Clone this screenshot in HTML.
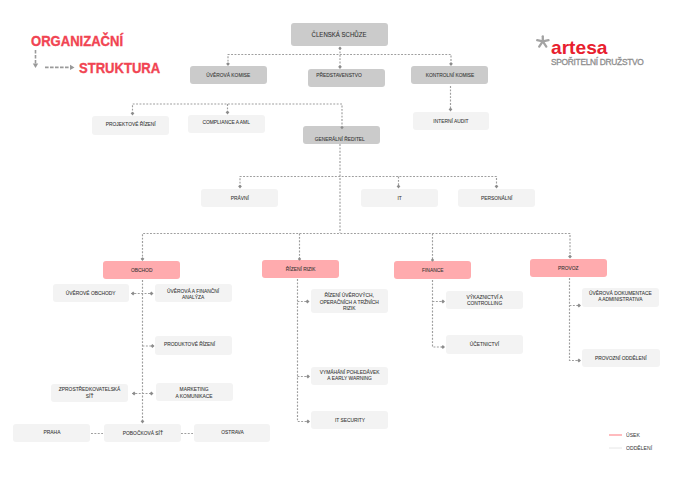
<!DOCTYPE html>
<html><head><meta charset="utf-8">
<style>
html,body{margin:0;padding:0;background:#fff;}
body{width:676px;height:478px;position:relative;overflow:hidden;font-family:"Liberation Sans",sans-serif;}
.b{position:absolute;border-radius:3px;display:flex;align-items:center;justify-content:center;text-align:center;font-size:5.8px;line-height:6.1px;color:#333;-webkit-text-stroke:0.08px #333;box-sizing:border-box;white-space:nowrap;}
.b span{display:inline-block;transform:translateY(-0.3px) scaleX(0.84);}
.b.m{line-height:6.2px;}
.b.m span{transform:scaleX(0.84);}
.b.big{font-size:7.3px;line-height:7px;}
.b.big span{transform:translateY(0.2px) scaleX(0.83);}
.d{background:#cbcbcb;}
.l{background:#f3f3f3;}
.p{background:#ffabae;}
.t{position:absolute;white-space:nowrap;line-height:1;}
svg{position:absolute;left:0;top:0;}
</style></head><body>
<div class="t" style="left:31px;top:33px;font-size:15px;font-weight:700;color:#f14452;-webkit-text-stroke:0.35px #f14452;transform:scaleX(0.87);transform-origin:0 0;">ORGANIZAČNÍ</div>
<div class="t" style="left:79px;top:60px;font-size:15px;font-weight:700;color:#f14452;-webkit-text-stroke:0.35px #f14452;transform:scaleX(0.87);transform-origin:0 0;">STRUKTURA</div>
<div class="t" style="left:551px;top:39px;font-size:18.6px;font-weight:700;color:#e8202e;transform:scaleX(1.03);transform-origin:0 0;">artesa</div>
<div class="t" style="left:551px;top:58px;font-size:8.4px;color:#8e8e8e;-webkit-text-stroke:0.3px #8e8e8e;letter-spacing:-0.3px;">SPOŘITELNÍ DRUŽSTVO</div>
<div class="t" style="left:626px;top:432.5px;font-size:5.8px;color:#333;transform:scaleX(0.88);transform-origin:0 0;">ÚSEK</div>
<div class="t" style="left:626px;top:445.5px;font-size:5.8px;color:#333;transform:scaleX(0.88);transform-origin:0 0;">ODDĚLENÍ</div>
<div class="b d big" style="left:291px;top:23px;width:97px;height:23px;"><span>ČLENSKÁ SCHŮZE</span></div>
<div class="b d" style="left:190px;top:66px;width:77px;height:18px;"><span>ÚVĚROVÁ KOMISE</span></div>
<div class="b d" style="left:308px;top:69px;width:77px;height:18px;"><span style="position:relative;left:-7px;top:-3px;">PŘEDSTAVENSTVO</span></div>
<div class="b d" style="left:411px;top:66px;width:77px;height:18px;"><span>KONTROLNÍ KOMISE</span></div>
<div class="b l" style="left:92px;top:116px;width:77px;height:18.5px;"><span style="position:relative;left:0px;top:-1.3px;">PROJEKTOVÉ ŘÍZENÍ</span></div>
<div class="b l" style="left:187.5px;top:114.6px;width:77px;height:18.2px;"><span style="position:relative;left:0.5px;top:-1.7px;">COMPLIANCE A AML</span></div>
<div class="b l" style="left:413px;top:112px;width:76px;height:18px;"><span>INTERNÍ AUDIT</span></div>
<div class="b d" style="left:303px;top:126px;width:77px;height:18px;"><span style="position:relative;left:-2px;top:4px;">GENERÁLNÍ ŘEDITEL</span></div>
<div class="b l" style="left:201px;top:189px;width:77px;height:18px;"><span>PRÁVNÍ</span></div>
<div class="b l" style="left:361px;top:189px;width:77px;height:18px;"><span>IT</span></div>
<div class="b l" style="left:458px;top:189px;width:77px;height:18px;"><span>PERSONÁLNÍ</span></div>
<div class="b p" style="left:103px;top:261px;width:77px;height:18px;"><span>OBCHOD</span></div>
<div class="b p" style="left:262px;top:260px;width:77px;height:18px;"><span>ŘÍZENÍ RIZIK</span></div>
<div class="b p" style="left:394px;top:261px;width:77px;height:18px;"><span>FINANCE</span></div>
<div class="b p" style="left:530px;top:259px;width:77px;height:18px;"><span>PROVOZ</span></div>
<div class="b l" style="left:53px;top:284px;width:76px;height:18px;"><span>ÚVĚROVÉ OBCHODY</span></div>
<div class="b l m" style="left:155px;top:284px;width:77px;height:18px;"><span style="position:relative;left:0px;top:0.8px;">ÚVĚROVÁ A FINANČNÍ<br>ANALÝZA</span></div>
<div class="b l" style="left:155px;top:336px;width:77px;height:19px;"><span style="position:relative;left:-4px;top:-1px;">PRODUKTOVÉ ŘÍZENÍ</span></div>
<div class="b l m" style="left:51px;top:384px;width:77px;height:18px;"><span style="position:relative;left:0px;top:-0.5px;">ZPROSTŘEDKOVATELSKÁ<br>SÍŤ</span></div>
<div class="b l m" style="left:156px;top:383px;width:77px;height:18px;"><span style="position:relative;left:0px;top:0.5px;">MARKETING<br>A KOMUNIKACE</span></div>
<div class="b l" style="left:13px;top:424px;width:77px;height:18px;"><span style="position:relative;left:0px;top:-1px;">PRAHA</span></div>
<div class="b l" style="left:104px;top:424px;width:77px;height:18px;"><span>POBOČKOVÁ SÍŤ</span></div>
<div class="b l" style="left:194px;top:424px;width:76px;height:18px;"><span style="position:relative;left:0px;top:-1px;">OSTRAVA</span></div>
<div class="b l m" style="left:310.5px;top:289px;width:77px;height:24px;"><span style="position:relative;left:0px;top:0.8px;">ŘÍZENÍ ÚVĚROVÝCH,<br>OPERAČNÍCH A TRŽNÍCH<br>RIZIK</span></div>
<div class="b l m" style="left:311px;top:366.5px;width:77px;height:18.5px;"><span style="position:relative;left:0px;top:-0.5px;">VYMÁHÁNÍ POHLEDÁVEK<br>A EARLY WARNING</span></div>
<div class="b l" style="left:311px;top:411px;width:77px;height:18px;"><span>IT SECURITY</span></div>
<div class="b l m" style="left:446px;top:291px;width:77px;height:18px;"><span style="position:relative;left:0px;top:-0.3px;">VÝKAZNICTVÍ A<br>CONTROLLING</span></div>
<div class="b l" style="left:446px;top:335px;width:77px;height:19px;"><span>ÚČETNICTVÍ</span></div>
<div class="b l m" style="left:582px;top:288px;width:77px;height:18.5px;"><span style="position:relative;left:0px;top:-1px;">ÚVĚROVÁ DOKUMENTACE<br>A ADMINISTRATIVA</span></div>
<div class="b l" style="left:582px;top:349px;width:78px;height:18px;"><span>PROVOZNÍ ODDĚLENÍ</span></div>
<svg width="676" height="478" viewBox="0 0 676 478">
<g fill="none" stroke="#9e9e9e" stroke-width="1.15" stroke-dasharray="1.9 1.5">
<path d="M340 48 V68"/>
<path d="M228 65 V54.5 H451 V65"/>
<path d="M450.5 86 V110"/>
<path d="M132.5 114 V104 H342 V126"/>
<path d="M227.5 104 V113"/>
<path d="M340 144 V233"/>
<path d="M240 187 V176.5 H496.5 V187"/>
<path d="M398.5 176.5 V187"/>
<path d="M142.5 260 V233.5 H570 V258"/>
<path d="M299.5 233.5 V259"/>
<path d="M432.5 233.5 V260"/>
<path d="M142.5 280 V422"/>
<path d="M131 293.5 H153"/>
<path d="M142.5 346 H154"/>
<path d="M132 393.5 H153"/>
<path d="M91 433.5 H103"/>
<path d="M181 433.5 H193"/>
<path d="M297.5 279 V421.5 H309"/>
<path d="M297.5 301.5 H308"/>
<path d="M297.5 376.5 H309"/>
<path d="M432.5 280 V347 H444"/>
<path d="M432.5 301.5 H444"/>
<path d="M569.5 278 V360.5 H580"/>
<path d="M569.5 305.5 H580"/>
</g>
<g fill="#8c8c8c"><path d="M338.30 48.30 L340.00 46.60 L341.70 48.30 L340.00 50.00 Z"/><path d="M228.00 66.00 L226.10 63.80 L228.00 62.20 L229.90 63.80 Z"/><path d="M340.00 69.00 L338.10 66.80 L340.00 65.20 L341.90 66.80 Z"/><path d="M451.00 66.00 L449.10 63.80 L451.00 62.20 L452.90 63.80 Z"/><path d="M450.50 111.50 L448.60 109.30 L450.50 107.70 L452.40 109.30 Z"/><path d="M132.50 115.50 L130.60 113.30 L132.50 111.70 L134.40 113.30 Z"/><path d="M227.50 114.50 L225.60 112.30 L227.50 110.70 L229.40 112.30 Z"/><path d="M340.30 127.50 L342.00 125.80 L343.70 127.50 L342.00 129.20 Z"/><path d="M240.00 188.50 L238.10 186.30 L240.00 184.70 L241.90 186.30 Z"/><path d="M398.50 188.50 L396.60 186.30 L398.50 184.70 L400.40 186.30 Z"/><path d="M496.50 188.50 L494.60 186.30 L496.50 184.70 L498.40 186.30 Z"/><path d="M142.50 261.00 L140.60 258.80 L142.50 257.20 L144.40 258.80 Z"/><path d="M297.80 259.00 L299.50 257.30 L301.20 259.00 L299.50 260.70 Z"/><path d="M430.80 260.00 L432.50 258.30 L434.20 260.00 L432.50 261.70 Z"/><path d="M570.00 258.60 L568.10 256.40 L570.00 254.80 L571.90 256.40 Z"/><path d="M131.00 293.50 L133.20 291.60 L134.80 293.50 L133.20 295.40 Z"/><path d="M153.50 293.50 L151.30 291.60 L149.70 293.50 L151.30 295.40 Z"/><path d="M154.50 346.00 L152.30 344.10 L150.70 346.00 L152.30 347.90 Z"/><path d="M132.00 393.50 L134.20 391.60 L135.80 393.50 L134.20 395.40 Z"/><path d="M153.50 393.50 L151.30 391.60 L149.70 393.50 L151.30 395.40 Z"/><path d="M142.50 423.50 L140.60 421.30 L142.50 419.70 L144.40 421.30 Z"/><path d="M309.50 301.50 L307.30 299.60 L305.70 301.50 L307.30 303.40 Z"/><path d="M310.00 376.50 L307.80 374.60 L306.20 376.50 L307.80 378.40 Z"/><path d="M310.00 421.50 L307.80 419.60 L306.20 421.50 L307.80 423.40 Z"/><path d="M445.00 301.50 L442.80 299.60 L441.20 301.50 L442.80 303.40 Z"/><path d="M445.00 347.00 L442.80 345.10 L441.20 347.00 L442.80 348.90 Z"/><path d="M581.00 305.50 L578.80 303.60 L577.20 305.50 L578.80 307.40 Z"/><path d="M581.00 360.50 L578.80 358.60 L577.20 360.50 L578.80 362.40 Z"/></g>
<path d="M35.5 50 V64" fill="none" stroke="#9a9a9a" stroke-width="1.6" stroke-dasharray="3.6 1.4"/>
<path d="M45 67.4 H70.5" fill="none" stroke="#9a9a9a" stroke-width="1.6" stroke-dasharray="3.6 1.4"/>
<path d="M32.8 63.4 H38.2 L35.5 68 Z" fill="#999"/>
<path d="M70 64.7 V70.1 L74.5 67.4 Z" fill="#999"/>
<g fill="none" stroke="#a3a3a3" stroke-width="2.3" stroke-linecap="round">
<path d="M542.8 41.4 L542.8 36.3"/>
<path d="M542.8 41.4 L537.2 40.2"/>
<path d="M542.8 41.4 L548.5 40.2"/>
<path d="M542.8 41.4 L539.2 46.6"/>
<path d="M542.8 41.4 L546.3 46.6"/>
</g>
<path d="M609 435 H622" stroke="#ff9ea3" stroke-width="1.4"/>
<path d="M609 448 H622" stroke="#e6e6e6" stroke-width="1"/>
</svg>
</body></html>
